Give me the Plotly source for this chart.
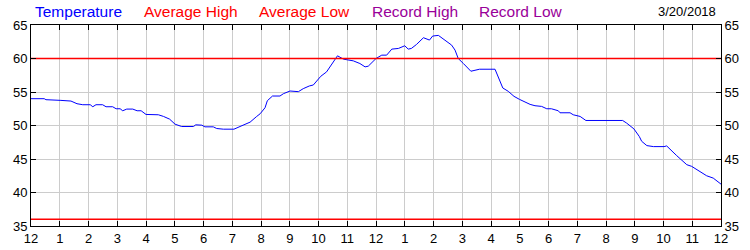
import plotly.graph_objects as go

# Hours after midnight and temperature (°F)
hours = [0.0, 0.46, 0.52, 1.0, 1.04, 1.39, 1.6, 1.8, 2.06, 2.15, 2.26, 2.49, 2.61, 2.84,
         2.96, 3.1, 3.19, 3.33, 3.54, 3.69, 3.83, 4.0, 4.43, 4.61, 4.82, 5.01, 5.24, 5.65,
         5.73, 5.94, 6.05, 6.34, 6.46, 6.69, 7.06, 7.27, 7.62, 7.85, 7.97, 8.14, 8.22, 8.4,
         8.66, 8.78, 8.9, 9.01, 9.3, 9.47, 9.68, 9.82, 10.08, 10.28, 10.66, 10.87, 11.21,
         11.44, 11.62, 11.73, 12.0, 12.2, 12.37, 12.55, 12.78, 13.0, 13.12, 13.23, 13.41,
         13.65, 13.86, 13.97, 14.17, 14.4, 14.63, 14.75, 14.86, 15.04, 15.3, 15.6, 16.14,
         16.41, 16.6, 16.8, 16.99, 17.36, 17.53, 17.76, 17.94, 18.1, 18.34, 18.4, 18.75,
         18.86, 19.1, 19.3, 20.58, 20.72, 20.97, 21.16, 21.24, 21.42, 21.65, 22.02, 22.11,
         22.46, 22.81, 22.98, 23.21, 23.5, 23.73, 24.0]
temperature = [54.0, 54.0, 53.85, 53.85, 53.75, 53.65, 53.25, 53.1, 53.1, 52.8, 53.1, 53.1,
               52.8, 52.8, 52.5, 52.5, 52.2, 52.45, 52.45, 52.2, 52.2, 51.65, 51.6, 51.35,
               50.95, 50.2, 49.85, 49.85, 50.1, 50.05, 49.8, 49.8, 49.55, 49.45, 49.45, 49.85,
               50.5, 51.35, 51.75, 52.65, 53.7, 54.4, 54.4, 54.75, 54.9, 55.15, 55.05, 55.5,
               55.9, 56.05, 57.35, 58.0, 60.4, 59.9, 59.65, 59.25, 58.75, 58.85, 60.0, 60.5,
               60.5, 61.4, 61.5, 61.9, 61.4, 61.5, 62.1, 63.1, 62.75, 63.35, 63.45, 62.75,
               62.0, 61.25, 60.0, 59.25, 58.1, 58.4, 58.4, 55.6, 55.1, 54.35, 53.9, 53.15,
               52.95, 52.85, 52.5, 52.5, 52.2, 51.9, 51.9, 51.6, 51.35, 50.75, 50.75, 50.35,
               49.5, 48.35, 47.65, 47.0, 46.85, 46.85, 46.95, 45.5, 44.15, 43.9, 43.25, 42.5,
               42.15, 41.25]

average_high = 60
average_low = 36
day_span = [0, 24]

x_tick_vals = list(range(0, 25))
x_tick_text = ["12", "1", "2", "3", "4", "5", "6", "7", "8", "9", "10", "11",
               "12", "1", "2", "3", "4", "5", "6", "7", "8", "9", "10", "11", "12"]
y_tick_vals = [35, 40, 45, 50, 55, 60, 65]

legend_labels = ["Temperature", "Average High", "Average Low", "Record High", "Record Low"]
legend_colors = ["#0000FF", "#FF0000", "#FF0000", "#990099", "#990099"]
legend_x_px = [33, 142, 257, 370, 477]
date_label = "3/20/2018"

FONT = "Liberation Sans, Arial, sans-serif"

fig = go.Figure()
fig.add_trace(go.Scatter(x=day_span, y=[average_high] * 2, mode="lines",
                         line=dict(color="#FF0000", width=1.6), yaxis="y2",
                         hoverinfo="skip"))
fig.add_trace(go.Scatter(x=day_span, y=[average_low] * 2, mode="lines",
                         line=dict(color="#FF0000", width=1.6), yaxis="y2",
                         hoverinfo="skip"))
fig.add_trace(go.Scatter(x=hours, y=temperature, mode="lines",
                         line=dict(color="#0000FF", width=1), hoverinfo="skip"))

W, H = 750, 250
ml, mr, mt, mb = 31, 29, 25, 24
pw = W - ml - mr
ph = H - mt - mb

axis_common = dict(
    showline=True, linecolor="black", linewidth=1,
    ticks="inside", ticklen=5, tickcolor="black", tickwidth=1,
    tickfont=dict(family=FONT, size=13, color="black"),
    zeroline=False, automargin=False,
)

fig.update_layout(
    template="none",
    width=W, height=H,
    margin=dict(l=ml, r=mr, t=mt, b=mb, pad=0),
    paper_bgcolor="white", plot_bgcolor="white",
    showlegend=False,
    xaxis=dict(range=day_span, tickvals=x_tick_vals, ticktext=x_tick_text,
               showgrid=True, gridcolor="#CCCCCC", gridwidth=1, mirror="ticks",
               **axis_common),
    yaxis=dict(range=[35, 65], tickvals=y_tick_vals, showgrid=True,
               gridcolor="#CCCCCC", gridwidth=1, mirror="ticks", **axis_common),
    yaxis2=dict(range=[35, 65], tickvals=y_tick_vals, overlaying="y", side="right",
                showgrid=False, **axis_common),
)

annotations = []
for label, color, xp in zip(legend_labels, legend_colors, legend_x_px):
    annotations.append(dict(
        text=label, xref="paper", yref="paper",
        x=(xp - ml) / pw, y=1 + (mt - 12) / ph,
        xanchor="left", yanchor="middle", showarrow=False,
        font=dict(family=FONT, size=15.5, color=color)))
annotations.append(dict(
    text=date_label, xref="paper", yref="paper",
    x=(718 - ml) / pw, y=1 + (mt - 12) / ph,
    xanchor="right", yanchor="middle", showarrow=False,
    font=dict(family=FONT, size=13, color="black")))
fig.update_layout(annotations=annotations)

fig.write_html("out.html")
